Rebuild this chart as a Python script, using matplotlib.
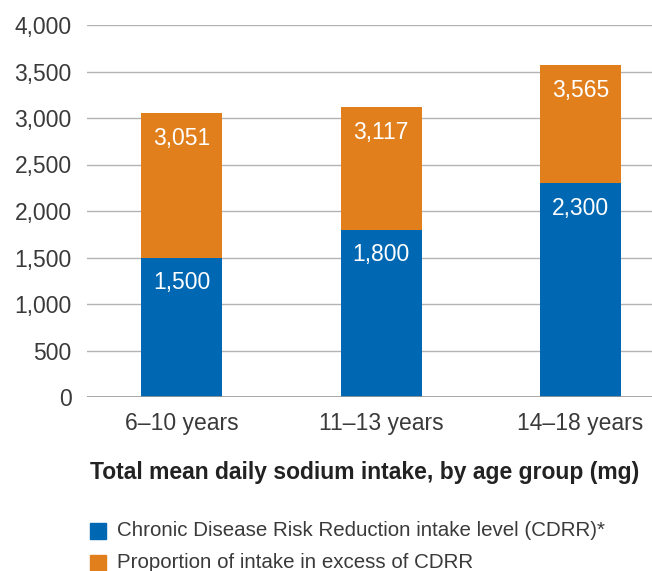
import matplotlib
matplotlib.use("Agg")
import matplotlib.pyplot as plt
from matplotlib.patches import Rectangle

categories = ["6–10 years", "11–13 years", "14–18 years"]
cdrr = [1500, 1800, 2300]
totals = [3051, 3117, 3565]
yticks = [0, 500, 1000, 1500, 2000, 2500, 3000, 3500, 4000]
title = "Total mean daily sodium intake, by age group (mg)"
legend_labels = ["Chronic Disease Risk Reduction intake level (CDRR)*",
                 "Proportion of intake in excess of CDRR"]

BLUE = "#0068b3"
ORANGE = "#e17f1d"
FONT = "Liberation Sans"
TXT = "#3a3a3a"

excess = [t - c for t, c in zip(totals, cdrr)]

fig = plt.figure(figsize=(6.52, 5.71), dpi=100)
W, H = 652, 571
ax = fig.add_axes([87 / W, (H - 397) / H, 1 - 87 / W, (397 - 25) / H])
x = list(range(len(categories)))
ax.set_xlim(-0.474, 2.358)
ax.set_ylim(0, 4000)

for v in yticks[1:]:
    ax.axhline(v, color="#b3b3b3", lw=1.0, zorder=0)
ax.axhline(0, color="#999999", lw=1.2, zorder=3)

bw = 0.406
ax.bar(x, cdrr, width=bw, color=BLUE, zorder=2)
ax.bar(x, excess, bottom=cdrr, width=bw, color=ORANGE, zorder=2)

for xi, c, t in zip(x, cdrr, totals):
    ax.annotate(f"{c:,}", (xi, c), xytext=(0, -18), textcoords="offset points",
                ha="center", va="center", color="white", fontsize=16.5,
                family=FONT, zorder=4)
    ax.annotate(f"{t:,}", (xi, t), xytext=(0, -18), textcoords="offset points",
                ha="center", va="center", color="white", fontsize=16.5,
                family=FONT, zorder=4)

for s in ax.spines.values():
    s.set_visible(False)
ax.set_yticks(yticks)
ax.set_yticklabels([f"{v:,}" for v in yticks], family=FONT,
                   fontsize=16.5, color=TXT)
ax.set_xticks(x)
ax.set_xticklabels(categories, family=FONT, fontsize=16.5, color=TXT)
ax.tick_params(axis="y", length=0, pad=11)
ax.tick_params(axis="x", length=0, pad=11)

fig.text(90 / W, 1 - 473 / H, title, ha="left", va="center", fontsize=16.5,
         fontweight="bold", family=FONT, color="#222222")

for i, (lab, col) in enumerate(zip(legend_labels, [BLUE, ORANGE])):
    yc = 531 + i * 32
    fig.patches.append(Rectangle((90 / W, 1 - (yc + 8) / H), 16 / W, 16 / H,
                                 transform=fig.transFigure, color=col))
    fig.text(117 / W, 1 - yc / H, lab, ha="left", va="center", fontsize=14.8,
             family=FONT, color=TXT)

fig.savefig("out.png", dpi=100)
